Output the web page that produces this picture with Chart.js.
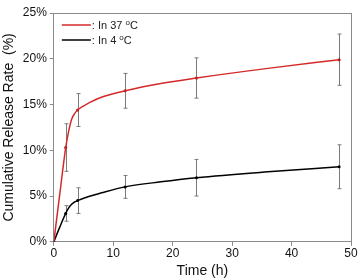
<!DOCTYPE html>
<html>
<head>
<meta charset="utf-8">
<script src="https://cdn.jsdelivr.net/npm/chart.js@4/dist/chart.umd.min.js"></script>
<style>
  html, body { margin: 0; padding: 0; background: #fff; }
  #wrap { width: 359px; height: 280px; }
</style>
</head>
<body>
<div id="wrap"><canvas id="graficoCanvas" width="359" height="280"></canvas></div>
<script>
const times = [0, 2, 4, 12, 24, 48]
const rate37 = [0, 10.3, 14.4, 16.5, 17.9, 19.9]
const err37 = [0, 2.6, 1.8, 1.9, 2.2, 2.8]
const rate4 = [0, 3.1, 4.5, 6.0, 7.0, 8.2]
const err4 = [0, 0.85, 1.4, 1.25, 2.0, 2.4]

// curvas ajustadas
const curveTimes = [0, 1, 2, 2.5, 3, 3.5, 4, 6, 8, 12, 18, 24, 36, 48]
const curve37 = [0, 5.2, 10.3, 12.1, 13.4, 14.0, 14.4, 15.2, 15.8, 16.5, 17.3, 17.9, 18.95, 19.9]
const curve4 = [0, 1.6, 3.1, 3.7, 4.1, 4.35, 4.5, 4.98, 5.35, 6.0, 6.55, 7.0, 7.65, 8.2]

const seriesNames = ['In 37', 'In 4']
const yTicks = [0, 5, 10, 15, 20, 25]

const red = '#d42a2a'
const axisColor = '#8a8a8a'
const fontFam = '"Liberation Sans", Arial, sans-serif'

const toPoints = (xs, ys) => xs.map((x, i) => ({ x: x, y: ys[i] }))

// barras de error
const errorBars = {
  id: 'errorBars',
  beforeDatasetsDraw(chart) {
    const ctx = chart.ctx
    const xs = chart.scales.x
    const ys = chart.scales.y
    ctx.save()
    ctx.strokeStyle = '#7a7a7a'
    ctx.lineWidth = 1
    chart.data.datasets.forEach(ds => {
      if (!ds.errors) return
      ds.data.forEach((p, i) => {
        const e = ds.errors[i]
        if (!e) return
        const px = Math.round(xs.getPixelForValue(p.x)) + 0.5
        const top = ys.getPixelForValue(p.y + e)
        const bot = ys.getPixelForValue(p.y - e)
        ctx.beginPath()
        ctx.moveTo(px, top); ctx.lineTo(px, bot)
        ctx.moveTo(px - 2, top); ctx.lineTo(px + 2, top)
        ctx.moveTo(px - 2, bot); ctx.lineTo(px + 2, bot)
        ctx.stroke()
      })
    })
    ctx.restore()
  }
}

// leyenda dentro del grafico
const insideLegend = {
  id: 'insideLegend',
  afterDraw(chart) {
    const ctx = chart.ctx
    const area = chart.chartArea
    ctx.save()
    seriesNames.forEach((name, i) => {
      const ds = chart.data.datasets[i]
      const y = area.top + 12 + i * 15
      const x0 = area.left + 8
      ctx.strokeStyle = ds.borderColor
      ctx.lineWidth = 1.5
      ctx.beginPath()
      ctx.moveTo(x0, y); ctx.lineTo(x0 + 29, y)
      ctx.stroke()
      ctx.fillStyle = '#222'
      ctx.textBaseline = 'middle'
      ctx.font = '11px ' + fontFam
      let t = ': ' + name + ' '
      ctx.fillText(t, x0 + 30, y + 1)
      let w = ctx.measureText(t).width
      ctx.font = '8px ' + fontFam
      ctx.fillText('o', x0 + 30 + w, y - 2)
      let w2 = ctx.measureText('o').width
      ctx.font = '11px ' + fontFam
      ctx.fillText('C', x0 + 30 + w + w2, y + 1)
    })
    ctx.restore()
  }
}

new Chart(document.getElementById('graficoCanvas'), {
  type: 'line',
  data: {
    datasets: [
      {
        label: seriesNames[0],
        data: toPoints(curveTimes, curve37),
        borderColor: red,
        borderWidth: 1.5,
        pointRadius: 0,
        cubicInterpolationMode: 'monotone'
      },
      {
        label: seriesNames[1],
        data: toPoints(curveTimes, curve4),
        borderColor: '#000000',
        borderWidth: 1.5,
        pointRadius: 0,
        cubicInterpolationMode: 'monotone'
      },
      {
        label: seriesNames[0] + ' datos',
        data: toPoints(times, rate37),
        errors: err37,
        showLine: false,
        backgroundColor: '#a01010',
        borderColor: '#a01010',
        pointRadius: 1.5,
        pointBorderWidth: 0
      },
      {
        label: seriesNames[1] + ' datos',
        data: toPoints(times, rate4),
        errors: err4,
        showLine: false,
        backgroundColor: '#000000',
        borderColor: '#000000',
        pointRadius: 1.5,
        pointBorderWidth: 0
      }
    ]
  },
  options: {
    responsive: false,
    animation: false,
    layout: { padding: { top: 5, right: 0, left: 1, bottom: 0 } },
    plugins: {
      legend: { display: false },
      tooltip: { enabled: false }
    },
    scales: {
      x: {
        type: 'linear',
        min: 0,
        max: 50,
        ticks: {
          stepSize: 10,
          color: '#111',
          padding: 1,
          maxRotation: 0,
          font: { family: fontFam, size: 12 }
        },
        grid: { drawOnChartArea: false, color: axisColor, tickLength: 4, tickColor: axisColor },
        border: { color: axisColor, width: 1 },
        title: {
          display: true,
          text: 'Time (h)',
          color: '#111',
          padding: { top: 1, bottom: 0 },
          font: { family: fontFam, size: 14 }
        }
      },
      x2: {
        type: 'linear',
        position: 'top',
        min: 0, max: 50,
        ticks: { display: false },
        grid: { display: false },
        border: { color: axisColor, width: 1 }
      },
      y: {
        min: 0,
        max: 25,
        afterBuildTicks: axis => { axis.ticks = yTicks.map(v => ({ value: v })) },
        ticks: {
          color: '#111',
          padding: 3,
          callback: v => v + '%',
          font: { family: fontFam, size: 12 }
        },
        grid: { drawOnChartArea: false, color: axisColor, tickLength: 4, tickColor: axisColor },
        border: { color: axisColor, width: 1 },
        title: {
          display: true,
          text: 'Cumulative Release Rate  (%)',
          color: '#111',
          padding: { top: 0, bottom: 2 },
          font: { family: fontFam, size: 14 }
        }
      },
      y2: {
        position: 'right',
        min: 0, max: 25,
        ticks: { display: false },
        grid: { display: false },
        border: { color: axisColor, width: 1 }
      }
    }
  },
  plugins: [errorBars, insideLegend]
})
</script>
</body>
</html>
